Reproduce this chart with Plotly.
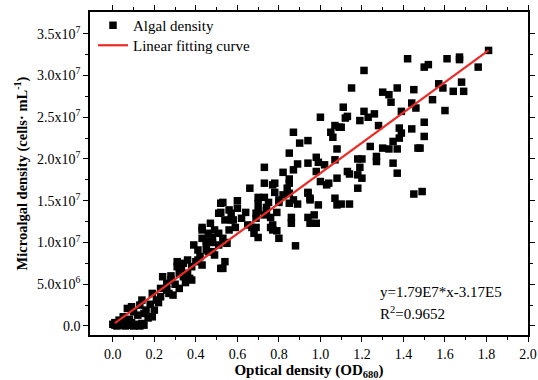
import plotly.graph_objects as go

# Scatter data: optical density (OD680) vs algal density (in 1e6 cells/mL)
od = [
    0.00, 0.01, 0.01, 0.02, 0.02, 0.03, 0.04, 0.05, 0.06, 0.06, 0.07, 0.08, 0.08, 0.09, 0.10, 0.11, 0.12, 0.13, 0.14, 0.15,
    0.09, 0.12, 0.16, 0.20, 0.19, 0.14, 0.19, 0.23, 0.24, 0.28, 0.26, 0.29, 0.32, 0.31, 0.34, 0.36, 0.38, 0.32, 0.26, 0.21,
    0.13, 0.07, 0.10, 0.05, 0.03, 0.17, 0.23, 0.40, 0.42, 0.39, 0.45, 0.48, 0.52, 0.54, 0.52, 0.57, 0.70,
    0.15, 0.18, 0.22, 0.27, 0.30, 0.35, 0.33, 0.28,
    0.66, 0.53, 0.60, 0.70, 0.51, 0.56, 0.60, 0.64, 0.69, 0.54, 0.58, 0.62, 0.47, 0.65, 0.43, 0.49, 0.56, 0.69, 0.48, 0.43,
    0.53, 0.45, 0.51, 0.41, 0.46, 0.55, 0.49, 0.31, 0.36, 0.41, 0.53, 0.33, 0.38, 0.43, 0.34, 0.37,
    1.00, 1.09, 1.05, 1.06, 0.87, 0.90, 0.94, 1.08, 0.85, 0.98, 0.94, 0.89, 0.87, 0.99, 1.02, 1.07, 0.98, 0.73, 0.82, 1.00,
    1.03, 1.08, 0.77, 0.85, 0.84, 0.94, 0.78, 0.70, 0.73, 0.75, 0.80, 0.85, 0.89, 0.95, 1.07, 1.08, 0.74, 0.79, 0.73, 0.99,
    0.86, 0.94, 0.97, 0.77, 0.86, 0.98, 0.77, 0.80, 0.88,
    0.78, 0.73, 0.85, 0.85, 0.87, 0.94, 0.95, 0.80, 0.82, 0.74, 0.76, 0.69, 0.70, 0.67, 0.68, 0.76, 0.79, 0.95, 0.57, 0.59,
    0.52, 0.43, 0.46, 0.51, 0.45, 0.48, 0.54,
    1.42, 1.21, 1.15, 1.30, 1.33, 1.37, 1.45, 1.34, 1.11, 1.44, 1.46, 1.13, 1.12, 1.21, 1.19, 1.26, 1.23, 1.39, 1.28, 1.10,
    1.38, 1.39, 1.44, 1.38, 1.35, 1.24, 1.30, 1.33, 1.37, 1.47, 1.18, 1.20, 1.27, 1.27, 1.35, 1.19, 1.13, 1.14, 1.18, 1.20,
    1.37, 1.18, 1.45, 1.14, 1.10, 1.07, 1.04,
    1.81, 1.67, 1.67, 1.61, 1.52, 1.50, 1.76, 1.57, 1.59, 1.68, 1.64, 1.69, 1.54, 1.60, 1.50, 1.50, 1.48, 1.49,
]
density_m = [
    0.2, 0.1, 0.4, 0.0, 0.2, 0.3, 0.1, 0.5, 0.0, 0.6, 0.2, 0.1, 0.8, 0.4, 0.0, 0.2, 0.1, 0.0, 0.3, 0.1,
    2.3, 1.3, 1.9, 1.9, 1.1, 3.1, 3.9, 4.5, 5.9, 5.5, 4.3, 3.7, 4.5, 7.1, 7.5, 6.3, 5.5, 6.3, 5.1, 3.1,
    2.5, 2.1, 1.7, 1.1, 0.7, 0.96, 3.5, 7.7, 8.3, 9.7, 9.1, 8.9, 6.9, 7.7, 14.7, 13.5, 10.6,
    1.5, 2.6, 2.8, 3.9, 5.0, 5.2, 6.8, 6.0,
    16.5, 14.8, 15.0, 14.7, 13.5, 13.9, 14.1, 13.6, 13.5, 12.7, 12.7, 12.9, 12.3, 12.1, 11.5, 11.5, 11.5, 11.8, 10.6, 10.5,
    10.5, 9.9, 9.7, 9.1, 8.9, 9.9, 8.5, 7.7, 7.9, 7.9, 6.9, 7.1, 7.1, 7.3, 5.9, 5.7,
    25.0, 23.8, 23.2, 22.6, 23.2, 21.9, 22.2, 21.2, 20.7, 20.2, 19.5, 19.4, 18.7, 19.6, 19.3, 19.9, 18.5, 19.0, 18.4, 17.3,
    16.9, 17.7, 16.9, 17.6, 16.5, 16.0, 16.0, 15.4, 15.4, 14.8, 15.1, 14.7, 14.6, 15.1, 15.3, 14.5, 14.2, 13.6, 13.3, 14.5,
    13.0, 13.0, 13.3, 12.1, 12.3, 12.3, 11.5, 10.5, 9.6,
    17.1, 17.1, 17.1, 15.9, 15.1, 15.9, 15.3, 14.8, 15.7, 13.8, 13.0, 12.9, 13.8, 11.8, 11.1, 11.8, 11.4, 12.3, 12.7, 11.8,
    13.6, 11.8, 11.1, 11.1, 10.2, 10.0, 10.0,
    32.0, 30.6, 28.5, 28.0, 27.7, 28.5, 28.3, 26.8, 26.2, 26.7, 26.1, 25.1, 24.9, 25.7, 24.6, 25.4, 25.0, 25.7, 24.0, 23.8,
    23.7, 23.1, 23.6, 22.5, 22.1, 21.5, 21.3, 21.2, 21.2, 21.3, 20.0, 20.0, 20.3, 19.7, 19.5, 19.0, 18.5, 18.2, 18.1, 17.7,
    18.3, 16.5, 15.8, 14.6, 14.6, 24.0, 17.1,
    33.0, 32.2, 31.9, 32.0, 31.3, 31.0, 31.0, 29.0, 28.5, 29.2, 28.1, 28.1, 27.1, 25.8, 24.4, 22.7, 21.3, 16.1,
]
density = [v * 1e6 for v in density_m]

# Linear fit line end points
fit_x = [0.01, 1.81]
fit_y = [3.5e5, 3.30e7]

x_ticks = [0.0, 0.2, 0.4, 0.6, 0.8, 1.0, 1.2, 1.4, 1.6, 1.8, 2.0]
x_tick_text = ["0.0", "0.2", "0.4", "0.6", "0.8", "1.0", "1.2", "1.4", "1.6", "1.8", "2.0"]
x_minor = [0.1, 0.3, 0.5, 0.7, 0.9, 1.1, 1.3, 1.5, 1.7, 1.9]
y_ticks = [0, 5e6, 1e7, 1.5e7, 2e7, 2.5e7, 3e7, 3.5e7]
y_tick_text = ["0.0", "5.0x10<sup>6</sup>", "1.0x10<sup>7</sup>", "1.5x10<sup>7</sup>",
               "2.0x10<sup>7</sup>", "2.5x10<sup>7</sup>", "3.0x10<sup>7</sup>", "3.5x10<sup>7</sup>"]
y_minor = [2.5e6, 7.5e6, 1.25e7, 1.75e7, 2.25e7, 2.75e7, 3.25e7]

FONT = "Liberation Serif, Times New Roman, serif"

# plot-area geometry in pixels
L, R, T, B = 90, 528, 12, 335
W, H = R - L, B - T

def px_x(p):
    return (p - L) / W

def px_y(p):
    return (B - p) / H

fig = go.Figure()
fig.add_trace(go.Scatter(
    x=od, y=density, mode="markers", name="Algal density", legend="legend",
    marker=dict(symbol="square", size=7.5, color="black", line=dict(width=0)),
))
fig.add_trace(go.Scatter(
    x=fit_x, y=fit_y, mode="lines", name="Linear fitting curve", legend="legend2",
    line=dict(color="#ee2a24", width=2.2),
))

axis_common = dict(
    showline=True, linecolor="black", linewidth=1.6, mirror="allticks",
    ticks="outside", ticklen=5, tickwidth=1, tickcolor="black",
    showgrid=False, zeroline=False, automargin=False,
    tickfont=dict(family=FONT, size=14, color="black"),
)

fig.update_xaxes(
    range=[-0.11, 2.0], tickmode="array", tickvals=x_ticks, ticktext=x_tick_text,
    minor=dict(tickvals=x_minor, ticklen=3, ticks="outside", tickcolor="black"),
    title=dict(text="<b>Optical density (OD<sub>680</sub>)</b>", font=dict(family=FONT, size=15, color="black"), standoff=4),
    **axis_common,
)
fig.update_yaxes(
    range=[-1.08e6, 3.76e7], tickmode="array", tickvals=y_ticks, ticktext=y_tick_text,
    minor=dict(tickvals=y_minor, ticklen=3, ticks="outside", tickcolor="black"),
    title=dict(text="<b>Microalgal density (cells· mL<sup>-1</sup>)</b>", font=dict(family=FONT, size=14.5, color="black"), standoff=6),
    **axis_common,
)

fig.add_annotation(
    xref="paper", yref="paper", x=px_x(378), y=px_y(292),
    xanchor="left", yanchor="middle", showarrow=False,
    text="y=1.79E7*x-3.17E5", font=dict(family=FONT, size=15, color="black"),
)
fig.add_annotation(
    xref="paper", yref="paper", x=px_x(378), y=px_y(313),
    xanchor="left", yanchor="middle", showarrow=False,
    text="R<sup>2</sup>=0.9652", font=dict(family=FONT, size=15, color="black"),
)

legend_common = dict(
    xanchor="left", yanchor="top", bgcolor="rgba(0,0,0,0)", borderwidth=0,
    font=dict(family=FONT, size=15, color="black"), itemsizing="trace",
)

fig.update_layout(
    width=538, height=380,
    margin=dict(l=L, r=538 - R, t=T, b=380 - B, autoexpand=False),
    paper_bgcolor="white", plot_bgcolor="white",
    showlegend=True,
    legend=dict(x=px_x(93), y=px_y(9), **legend_common),
    legend2=dict(x=px_x(93), y=px_y(29), **legend_common),
)

fig.write_html("out.html")
